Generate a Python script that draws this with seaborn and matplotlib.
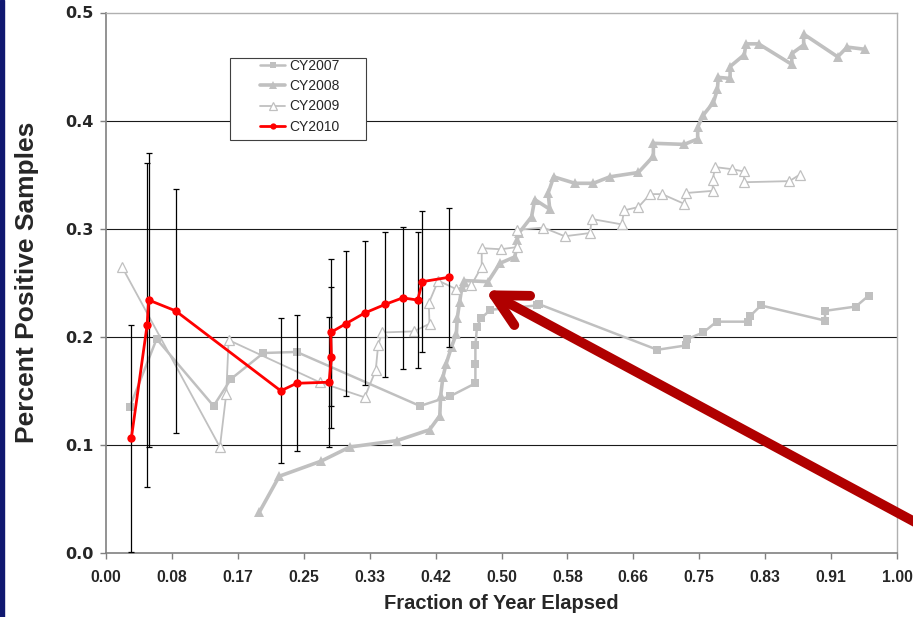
import numpy as np
import matplotlib
matplotlib.use("Agg")
import matplotlib.pyplot as plt
from matplotlib import font_manager
from matplotlib.patches import Rectangle
import seaborn as sns

# --- data ---
x07 = [0.030, 0.064, 0.136, 0.158, 0.199, 0.241, 0.397, 0.435, 0.467, 0.467, 0.467, 0.469, 0.474, 0.486,
       0.545, 0.548, 0.697, 0.733, 0.735, 0.755, 0.772, 0.811, 0.814, 0.828, 0.909, 0.909, 0.948, 0.964]
y07 = [0.135, 0.198, 0.136, 0.161, 0.185, 0.186, 0.136, 0.145, 0.157, 0.175, 0.192, 0.209, 0.217, 0.225,
       0.229, 0.230, 0.188, 0.192, 0.198, 0.204, 0.214, 0.214, 0.219, 0.229, 0.215, 0.224, 0.228, 0.238]

x08 = [0.194, 0.219, 0.272, 0.308, 0.368, 0.409, 0.422, 0.423, 0.426, 0.430, 0.437, 0.443, 0.444, 0.447,
       0.450, 0.453, 0.483, 0.498, 0.517, 0.520, 0.522, 0.538, 0.542, 0.561, 0.559, 0.566, 0.593, 0.616,
       0.637, 0.673, 0.692, 0.692, 0.731, 0.748, 0.748, 0.755, 0.768, 0.773, 0.774, 0.789, 0.789, 0.807,
       0.809, 0.825, 0.867, 0.867, 0.882, 0.882, 0.925, 0.937, 0.959]
y08 = [0.038, 0.071, 0.085, 0.098, 0.104, 0.114, 0.127, 0.145, 0.163, 0.175, 0.191, 0.203, 0.217, 0.232,
       0.246, 0.252, 0.251, 0.268, 0.274, 0.290, 0.296, 0.311, 0.327, 0.318, 0.333, 0.348, 0.342, 0.342,
       0.348, 0.352, 0.367, 0.379, 0.378, 0.383, 0.394, 0.405, 0.417, 0.429, 0.440, 0.439, 0.450, 0.461,
       0.471, 0.471, 0.452, 0.462, 0.470, 0.480, 0.459, 0.468, 0.466]

x09 = [0.020, 0.144, 0.152, 0.155, 0.270, 0.327, 0.341, 0.344, 0.349, 0.389, 0.409, 0.408, 0.420, 0.443,
       0.462, 0.475, 0.475, 0.499, 0.520, 0.520, 0.553, 0.580, 0.612, 0.614, 0.652, 0.655, 0.673, 0.688,
       0.703, 0.731, 0.733, 0.767, 0.767, 0.770, 0.792, 0.806, 0.807, 0.864, 0.877]
y09 = [0.265, 0.098, 0.147, 0.197, 0.158, 0.144, 0.169, 0.192, 0.204, 0.205, 0.212, 0.231, 0.252, 0.244,
       0.248, 0.265, 0.282, 0.281, 0.283, 0.299, 0.301, 0.293, 0.296, 0.309, 0.304, 0.317, 0.320, 0.332,
       0.332, 0.323, 0.333, 0.335, 0.345, 0.357, 0.355, 0.353, 0.343, 0.344, 0.350]

x10 = [0.032, 0.052, 0.054, 0.088, 0.221, 0.241, 0.282, 0.285, 0.284, 0.303, 0.327, 0.353, 0.375, 0.394,
       0.400, 0.433]
y10 = [0.106, 0.211, 0.234, 0.224, 0.150, 0.157, 0.158, 0.181, 0.204, 0.212, 0.222, 0.230, 0.236, 0.234,
       0.251, 0.255]
err10 = [0.105, 0.150, 0.136, 0.113, 0.067, 0.063, 0.060, 0.065, 0.068, 0.067, 0.067, 0.067, 0.066, 0.063,
         0.065, 0.064]

xtick_labels = ["0.00", "0.08", "0.17", "0.25", "0.33", "0.42", "0.50", "0.58", "0.66", "0.75", "0.83", "0.91", "1.00"]
ytick_labels = ["0.0", "0.1", "0.2", "0.3", "0.4", "0.5"]

gray = "#c0c0c0"

# condensed font for the x axis if there is one, otherwise a smaller regular one
have_narrow = any(f.name == "Liberation Sans Narrow" for f in font_manager.fontManager.ttflist)
if have_narrow:
    xfont, xtick_size, xlabel_size = ["Liberation Sans Narrow"], 13.5, 16.5
else:
    xfont, xtick_size, xlabel_size = ["Liberation Sans"], 11.3, 14.5

sns.set_style("white")
plt.rcParams["font.family"] = ["Liberation Sans", "DejaVu Sans"]

fig = plt.figure(figsize=(9.13, 6.17), dpi=100)
ax = fig.add_axes([106 / 913, 1 - 553 / 617, 791 / 913, 540.5 / 617])

# grid lines
for g in [0.1, 0.2, 0.3, 0.4]:
    ax.axhline(g, color="#1a1a1a", lw=0.8, zorder=0)

sns.lineplot(x=x07, y=y07, sort=False, estimator=None, color=gray, lw=1.8, marker="s", markersize=6,
             markeredgecolor=gray, markeredgewidth=0, label="CY2007", ax=ax, zorder=2)
sns.lineplot(x=x08, y=y08, sort=False, estimator=None, color=gray, lw=2.6, marker="^", markersize=7,
             markeredgecolor=gray, markeredgewidth=0, label="CY2008", ax=ax, zorder=2)
sns.lineplot(x=x09, y=y09, sort=False, estimator=None, color=gray, lw=1.3, marker="^", markersize=7,
             markerfacecolor="white", markeredgecolor=gray, markeredgewidth=0.9, label="CY2009", ax=ax, zorder=2)

ax.errorbar(x10, y10, yerr=err10, fmt="none", ecolor="black", elinewidth=0.9, capsize=2.5, capthick=0.9, zorder=3)
sns.lineplot(x=x10, y=y10, sort=False, estimator=None, color="#ff0000", lw=2.0, marker="o", markersize=6,
             markeredgecolor="#ff0000", markeredgewidth=0, label="CY2010", ax=ax, zorder=4)

ax.set_xlim(0, 1)
ax.set_ylim(0, 0.5)
ax.set_xticks(np.arange(13) / 12, xtick_labels, fontfamily=xfont, fontsize=xtick_size, fontweight="bold")
ax.set_yticks(np.arange(6) / 10, ytick_labels, fontfamily=["DejaVu Sans"], fontsize=11.5, fontweight="bold")
ax.tick_params(axis="both", direction="out", length=4, width=1, color="#808080", bottom=True, left=True)
ax.tick_params(axis="x", pad=8)
ax.tick_params(axis="y", pad=5)

ax.set_xlabel("Fraction of Year Elapsed", fontfamily=xfont, fontsize=xlabel_size, fontweight="bold", labelpad=7)
ax.set_ylabel("Percent Positive Samples", fontsize=19, fontweight="bold", labelpad=19)

for side in ["left", "bottom"]:
    ax.spines[side].set_color("#808080")
    ax.spines[side].set_linewidth(1.2)
for side in ["top", "right"]:
    ax.spines[side].set_color("#b0b0b0")
    ax.spines[side].set_linewidth(1.0)

# legend with its own frame
ax.add_patch(Rectangle((0.1568, 0.7634), 0.1715, 0.1529, transform=ax.transAxes, facecolor="white",
                       edgecolor="#404040", lw=0.8, zorder=5))
leg = ax.legend(loc="upper left", bbox_to_anchor=(0.1947, 0.914), frameon=False, fontsize=10,
                borderpad=0, borderaxespad=0, handlelength=1.8, handletextpad=0.3, labelspacing=0.45,
                markerscale=0.75)
leg.set_zorder(6)

# big arrow
ax.annotate("", xy=(0.479, 0.243), xytext=(1.042, 0.021), xycoords="data", textcoords="data",
            annotation_clip=False,
            arrowprops=dict(arrowstyle="->,head_length=1.15,head_width=0.6", color="#b00000", lw=7,
                            mutation_scale=20, shrinkA=0, shrinkB=0), zorder=7)

# slide border strip on the left
fig.patches.append(Rectangle((0, 0), 4 / 913, 1, transform=fig.transFigure, color="#101870", zorder=10))

fig.savefig("out.png", dpi=100)
